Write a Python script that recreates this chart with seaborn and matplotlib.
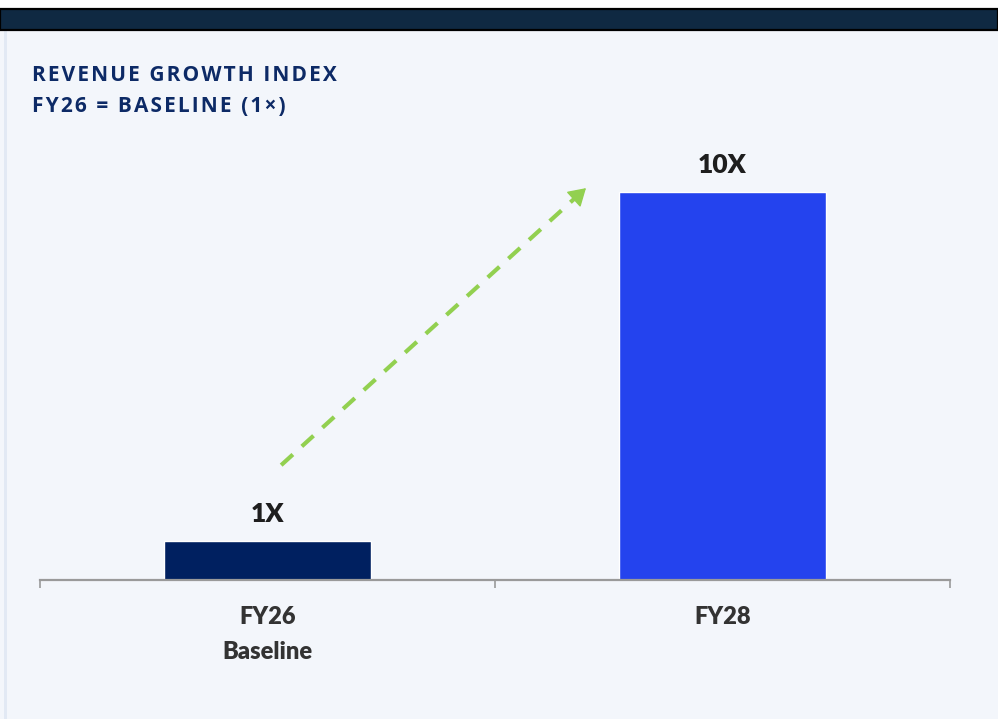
import matplotlib.pyplot as plt
import matplotlib.patches as mpatches
import seaborn as sns

# values
periods = ["FY26", "FY28"]
tick_labels = ["FY26\nBaseline", "FY28"]
growth_index = [1, 10]
value_labels = ["1X", "10X"]
bar_colors = ["#002060", "#2443EE"]
title_lines = ["REVENUE GROWTH INDEX", "FY26 = BASELINE (1\u00d7)"]

BG = "#F3F6FB"
NAVY_TEXT = "#0D2A66"
GREEN = "#92D050"

sns.set_theme(style="white")
plt.rcParams["font.family"] = ["Lato", "DejaVu Sans"]

W, H = 998, 719
fig = plt.figure(figsize=(W / 100, H / 100), dpi=100, facecolor=BG)

# header band + left edge strip
fig.patches.append(mpatches.Rectangle((0, 1 - 9 / H), 1, 9 / H, transform=fig.transFigure,
                                      facecolor="white", edgecolor="none", zorder=0))
fig.patches.append(mpatches.Rectangle((0, 1 - 30 / H), 1, 21 / H, transform=fig.transFigure,
                                      facecolor="#0F2942", edgecolor="black", lw=1.6, zorder=1))
fig.patches.append(mpatches.Rectangle((3.5 / W, 0), 3 / W, 1 - 31 / H, transform=fig.transFigure,
                                      facecolor="#E2E9F4", edgecolor="none", zorder=0))

ax = fig.add_axes([40 / W, 1 - 580 / H, 910 / W, (580 - 114.4) / H])
ax.set_facecolor(BG)

sns.barplot(x=periods, y=growth_index, hue=periods, palette=bar_colors, saturation=1,
            width=0.455, legend=False, ax=ax)
ax.set_xlim(-0.5, 1.5)
ax.set_ylim(0, 12)

for cont, lab in zip(ax.containers, value_labels):
    ax.bar_label(cont, labels=[lab], padding=11, fontsize=19, fontweight="heavy",
                 color="#1E1E1E")

# axis styling
for side in ["top", "left", "right"]:
    ax.spines[side].set_visible(False)
ax.spines["bottom"].set_color("#9A9A9A")
ax.spines["bottom"].set_linewidth(1.6)
ax.set_yticks([])
ax.set_xticks([-0.5, 0.5, 1.5])
ax.set_xticklabels([])
ax.tick_params(axis="x", which="major", length=6, width=1.2, color="#9A9A9A", bottom=True)
ax.set_xticks([0, 1], minor=True)
ax.set_xticklabels(tick_labels, minor=True, fontsize=17, fontweight="heavy", color="#333333",
                   linespacing=1.7)
ax.tick_params(axis="x", which="minor", length=0, pad=19)
ax.set_xlabel("")
ax.set_ylabel("")

# dashed growth arrow (data coords)
arrow_start = (0.03, 2.96)
arrow_end = (0.70, 10.1)
p0 = ax.transData.transform(arrow_start)
p1 = ax.transData.transform(arrow_end)
d = (p1 - p0) / ((p1 - p0) ** 2).sum() ** 0.5
base = ax.transData.inverted().transform(p1 - d * 15)
ax.plot([arrow_start[0], base[0]], [arrow_start[1], base[1]], color=GREEN, lw=3,
        dashes=(3.8, 2.9), solid_capstyle="butt", clip_on=False)
ax.annotate("", xy=arrow_end, xytext=tuple(base),
            arrowprops=dict(arrowstyle="-|>,head_length=0.9,head_width=0.55", color=GREEN,
                            lw=1, shrinkA=0, shrinkB=0))


def tracked(s):
    # the reference title has letter spacing; pad with hair spaces
    return "\u200a".join(s)


# title
for i, line in enumerate(title_lines):
    fig.text(32 / W, 1 - (81 + 31 * i) / H, tracked(line), fontsize=15, fontweight="bold",
             color=NAVY_TEXT, family=["Open Sans", "DejaVu Sans"], va="baseline")

fig.savefig("out.png", dpi=100, facecolor=BG)
